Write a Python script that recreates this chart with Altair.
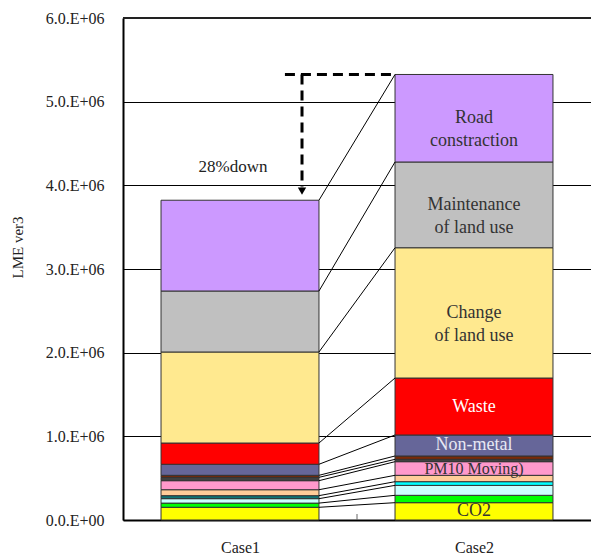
import altair as alt
import numpy as np
import pandas as pd

# Stack components, bottom to top
series = [
    "CO2", "Series 2", "Series 3", "Series 4", "Series 5", "PM10 (Moving)",
    "Series 7", "Series 8", "Non-metal", "Waste", "Change of land use",
    "Maintenance of land use", "Road construction",
]
case1_values = [0.152, 0.050, 0.053, 0.036, 0.071, 0.108, 0.040, 0.024,
                0.132, 0.254, 1.088, 0.729, 1.085]
case2_values = [0.207, 0.088, 0.119, 0.044, 0.076, 0.163, 0.028, 0.040,
                0.251, 0.681, 1.557, 1.025, 1.046]
scale_factor = 1e6

# Text drawn inside the Case2 segments
case2_labels = ["CO2", "", "", "", "", "PM10 Moving)", "", "", "Non-metal",
                "Waste", "Change\nof land use", "Maintenance\nof land use",
                "Road\nconstraction"]

categories = ["Case1", "Case2"]
y_ticks = [0, 1e6, 2e6, 3e6, 4e6, 5e6, 6e6]
note_text = "28%down"

# Fill colours
case1_colors = ["#FFFF00", "#00FF00", "#CCFFFF", "#0E7575", "#FFCC99", "#FF99CC",
                "#404040", "#7A2A08", "#666699", "#FF0000", "#FFE98F", "#C0C0C0",
                "#CC99FF"]
case2_colors = ["#FFFF00", "#00FF00", "#CCFFFF", "#00FFFF", "#FFCC99", "#FF99CC",
                "#404040", "#7A2A08", "#666699", "#FF0000", "#FFE98F", "#C0C0C0",
                "#CC99FF"]
label_colors = ["#333333", "#333333", "#333333", "#333333", "#333333", "#333333",
                "#333333", "#333333", "#E8E8F4", "#FFFFFF", "#333333", "#333333",
                "#333333"]

SERIF = "Liberation Serif"
MARK_SERIF = "'Liberation Serif', serif"
centers = [0.5, 1.5]
half_w = 0.3375

# Build stacked table
rows = []
for ci, (cat, vals, cols) in enumerate(zip(categories, [case1_values, case2_values],
                                            [case1_colors, case2_colors])):
    v = np.array(vals) * scale_factor
    top = np.cumsum(v)
    bot = top - v
    for i, name in enumerate(series):
        rows.append(dict(case=cat, series=name, y0=bot[i], y1=top[i],
                         xa=centers[ci] - half_w, xb=centers[ci] + half_w,
                         fill=cols[i]))
bars = pd.DataFrame(rows)

c1_top = np.cumsum(np.array(case1_values) * scale_factor)
c2_top = np.cumsum(np.array(case2_values) * scale_factor)
connectors = pd.DataFrame(dict(xa=centers[0] + half_w, xb=centers[1] - half_w,
                               ya=c1_top, yb=c2_top))

c2 = bars[bars.case == "Case2"].reset_index(drop=True)
labels = pd.DataFrame(dict(x=centers[1], y=(c2.y0 + c2.y1) / 2,
                           text=case2_labels, color=label_colors))
labels = labels[labels.text != ""]
labels["size"] = [18 if t != "PM10 Moving)" else 16 for t in labels.text]

total1, total2 = c1_top[-1], c2_top[-1]
unit = 6e6 / 502.0  # data units per pixel on the y scale

xs = alt.Scale(domain=[0, 2], nice=False, zero=False)
ys = alt.Scale(domain=[0, 6e6], nice=False)

x_axis = alt.Axis(values=centers, labelExpr="datum.value < 1 ? 'Case1' : 'Case2'",
                  ticks=False, grid=False, domainColor="#000000", domainWidth=2,
                  labelFont=SERIF, labelFontSize=16, labelColor="#222222",
                  labelPadding=19, title=None)
y_axis = alt.Axis(values=y_ticks,
                  labelExpr="datum.value == 0 ? '0.0.E+00' : format(datum.value/1000000, '.1f') + '.E+06'",
                  ticks=False, grid=True, gridColor="#000000", gridWidth=1,
                  domainColor="#000000", domainWidth=2, labelFont=SERIF,
                  labelFontSize=16, labelColor="#222222", labelPadding=19,
                  title="LME ver3", titleFont=SERIF, titleFontSize=15,
                  titleFontWeight="normal", titleColor="#222222",
                  titleX=-106, titleY=229, titleAngle=270, titleBaseline="middle")

bar_layer = alt.Chart(bars).mark_rect(stroke="#333333", strokeWidth=1).encode(
    x=alt.X("xa:Q", scale=xs, axis=x_axis),
    x2="xb:Q",
    y=alt.Y("y0:Q", scale=ys, axis=y_axis),
    y2="y1:Q",
    fill=alt.Fill("fill:N", scale=None),
)

top_line = alt.Chart(pd.DataFrame(dict(y=[6e6]))).mark_rule(
    color="#222222", strokeWidth=2).encode(
    y=alt.Y("y:Q", scale=ys), x=alt.value(0), x2=alt.value(468))

cat_tick = alt.Chart(pd.DataFrame(dict(x=[1.0], ya=[0.0], yb=[6 * unit]))).mark_rule(
    color="#666666", strokeWidth=1).encode(
    x=alt.X("x:Q", scale=xs), y=alt.Y("ya:Q", scale=ys), y2="yb:Q")

conn_layer = alt.Chart(connectors).mark_rule(color="#000000", strokeWidth=1).encode(
    x=alt.X("xa:Q", scale=xs), x2="xb:Q",
    y=alt.Y("ya:Q", scale=ys), y2="yb:Q")

dash_h = alt.Chart(pd.DataFrame(dict(xa=[0.692], xb=[centers[1] - half_w],
                                     y=[total2]))).mark_rule(
    color="#000000", strokeWidth=3, strokeDash=[10, 6]).encode(
    x=alt.X("xa:Q", scale=xs), x2="xb:Q", y=alt.Y("y:Q", scale=ys))

dash_v = alt.Chart(pd.DataFrame(dict(x=[0.765], ya=[total2],
                                     yb=[total1 + 13 * unit]))).mark_rule(
    color="#000000", strokeWidth=3, strokeDash=[10, 6]).encode(
    x=alt.X("x:Q", scale=xs), y=alt.Y("ya:Q", scale=ys), y2="yb:Q")

arrow = alt.Chart(pd.DataFrame(dict(x=[0.765], y=[total1 + 9 * unit]))).mark_point(
    shape="triangle-down", filled=True, color="#000000", size=70, opacity=1).encode(
    x=alt.X("x:Q", scale=xs), y=alt.Y("y:Q", scale=ys))

note = alt.Chart(pd.DataFrame(dict(x=[0.47], y=[4.222e6], text=[note_text]))).mark_text(
    font=MARK_SERIF, fontSize=17, color="#222222").encode(
    x=alt.X("x:Q", scale=xs), y=alt.Y("y:Q", scale=ys), text="text:N")

label_layer = alt.Chart(labels).mark_text(
    font=MARK_SERIF, lineBreak="\n", lineHeight=23, baseline="middle").encode(
    x=alt.X("x:Q", scale=xs), y=alt.Y("y:Q", scale=ys), text="text:N",
    color=alt.Color("color:N", scale=None),
    size=alt.Size("size:Q", scale=None))

chart = alt.layer(
    bar_layer, top_line, cat_tick, conn_layer, dash_h, dash_v, arrow, note, label_layer
).properties(
    width=468, height=502,
    autosize=alt.AutoSizeParams(type="none"),
    padding={"left": 123, "top": 18, "right": 0, "bottom": 38},
).configure(
    background="#FFFFFF"
).configure_view(strokeWidth=0)

chart.save("out.html", embed_options={"renderer": "svg", "actions": False})
